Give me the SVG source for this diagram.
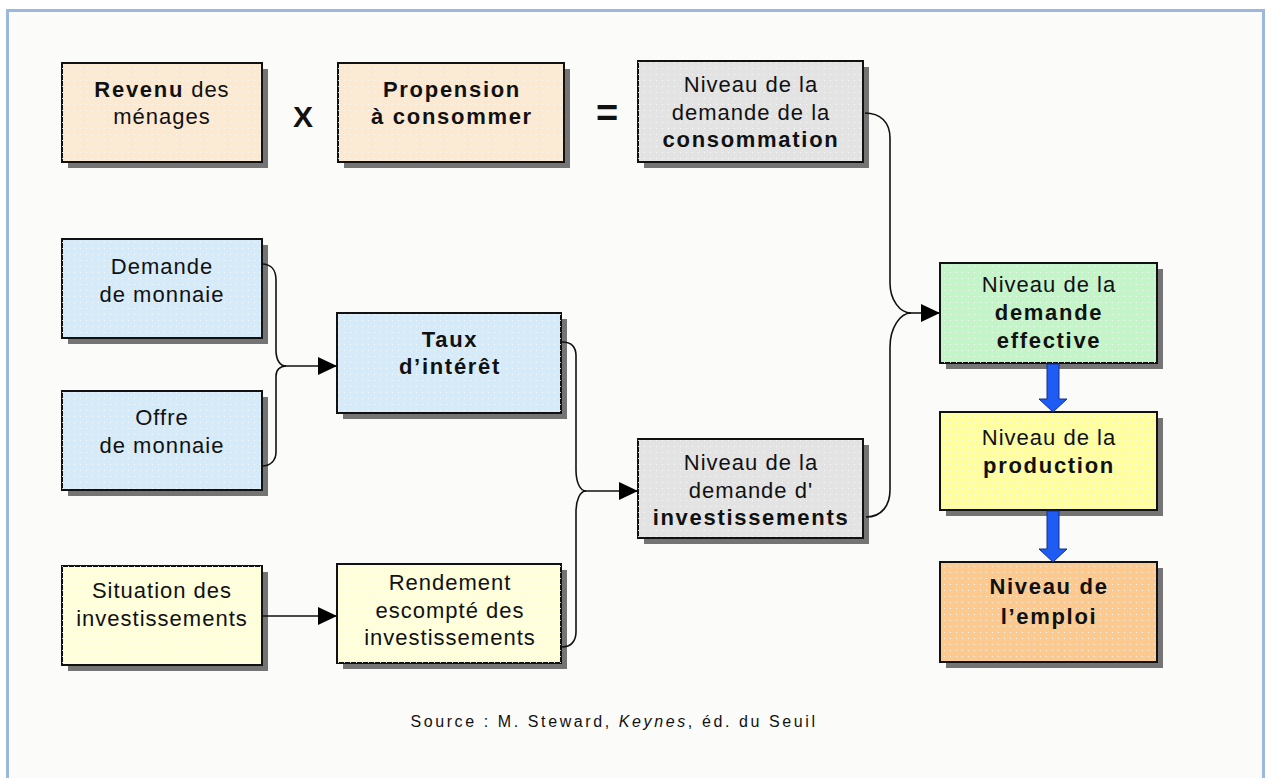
<svg xmlns="http://www.w3.org/2000/svg" width="1266" height="778" viewBox="0 0 1266 778">
<defs>
<pattern id="dots" width="6" height="6" patternUnits="userSpaceOnUse">
<rect x="2" y="2" width="1" height="1" fill="#ffffff" opacity="0.8"/>
</pattern>
<marker id="ah" markerUnits="userSpaceOnUse" markerWidth="20" markerHeight="18" refX="19" refY="9" orient="auto">
<path d="M0,0 L19,9 L0,18 Z" fill="#000"/>
</marker>
<style>
.sh{fill:#747474}
.bx{stroke:#111;stroke-width:2}
.dt{fill:url(#dots);stroke:none}
text{font-family:"Liberation Sans",Arial,sans-serif;font-size:22px;fill:#111;text-anchor:middle;letter-spacing:1px}
.b{font-weight:bold;letter-spacing:1.7px}
.peach{fill:#fce9d2}
.grey{fill:#e3e3e3}
.blue{fill:#d5ebf9}
.yel{fill:#fefed9}
.green{fill:#c3f5c9}
.prod{fill:#fefe9c}
.orng{fill:#fcca8f}
.cn{fill:none;stroke:#111;stroke-width:1.6}
.blu{fill:#1f5cf4;stroke:#15308a;stroke-width:1}
</style>
</defs>
<rect x="0" y="0" width="1266" height="778" fill="#ffffff"/>
<rect x="7.5" y="10.5" width="1256" height="780" fill="#fbfcfa" stroke="#9cb8de" stroke-width="3"/>

<g id="revenu">
<rect class="sh" x="68" y="69" width="200" height="99"/>
<rect class="bx peach" x="62" y="63" width="200" height="99"/>
<rect class="dt" x="62" y="63" width="200" height="99"/>
<text x="162" y="97"><tspan class="b">Revenu</tspan> des</text>
<text x="162" y="124">ménages</text>
</g>
<g id="op-x"><text x="303" y="127" style="font-weight:bold;font-size:30px;letter-spacing:0">X</text></g>
<g id="propension">
<rect class="sh" x="344" y="69" width="226" height="99"/>
<rect class="bx peach" x="338" y="63" width="226" height="99"/>
<rect class="dt" x="338" y="63" width="226" height="99"/>
<text class="b" x="452" y="97">Propension</text>
<text class="b" x="452" y="124">à consommer</text>
</g>
<g id="op-eq"><text x="607" y="126" style="font-weight:bold;font-size:38px;letter-spacing:0">=</text></g>
<g id="consommation">
<rect class="sh" x="644" y="67" width="225" height="101"/>
<rect class="bx grey" x="638" y="61" width="225" height="101"/>
<rect class="dt" x="638" y="61" width="225" height="101"/>
<text x="751" y="92">Niveau de la</text>
<text x="751" y="120">demande de la</text>
<text class="b" x="751" y="147">consommation</text>
</g>

<g id="demande-monnaie">
<rect class="sh" x="68" y="245" width="200" height="99"/>
<rect class="bx blue" x="62" y="239" width="200" height="99"/>
<rect class="dt" x="62" y="239" width="200" height="99"/>
<text x="162" y="274">Demande</text>
<text x="162" y="302">de monnaie</text>
</g>
<g id="offre-monnaie">
<rect class="sh" x="68" y="397" width="200" height="99"/>
<rect class="bx blue" x="62" y="391" width="200" height="99"/>
<rect class="dt" x="62" y="391" width="200" height="99"/>
<text x="162" y="425">Offre</text>
<text x="162" y="453">de monnaie</text>
</g>
<g id="taux">
<rect class="sh" x="343" y="319" width="224" height="100"/>
<rect class="bx blue" x="337" y="313" width="224" height="100"/>
<rect class="dt" x="337" y="313" width="224" height="100"/>
<text class="b" x="450" y="347">Taux</text>
<text class="b" x="450" y="374">d’intérêt</text>
</g>
<g id="investissements">
<rect class="sh" x="644" y="445" width="225" height="99"/>
<rect class="bx grey" x="638" y="439" width="225" height="99"/>
<rect class="dt" x="638" y="439" width="225" height="99"/>
<text x="751" y="470">Niveau de la</text>
<text x="751" y="498">demande d'</text>
<text class="b" x="751" y="525">investissements</text>
</g>
<g id="situation">
<rect class="sh" x="68" y="572" width="200" height="99"/>
<rect class="bx yel" x="62" y="566" width="200" height="99"/>
<rect class="dt" x="62" y="566" width="200" height="99"/>
<text x="162" y="598">Situation des</text>
<text x="162" y="626">investissements</text>
</g>
<g id="rendement">
<rect class="sh" x="343" y="570" width="224" height="99"/>
<rect class="bx yel" x="337" y="564" width="224" height="99"/>
<rect class="dt" x="337" y="564" width="224" height="99"/>
<text x="450" y="590">Rendement</text>
<text x="450" y="618">escompté des</text>
<text x="450" y="645">investissements</text>
</g>
<g id="effective">
<rect class="sh" x="946" y="269" width="217" height="100"/>
<rect class="bx green" x="940" y="263" width="217" height="100"/>
<rect class="dt" x="940" y="263" width="217" height="100"/>
<text x="1049" y="292">Niveau de la</text>
<text class="b" x="1049" y="320">demande</text>
<text class="b" x="1049" y="348">effective</text>
</g>
<g id="production">
<rect class="sh" x="946" y="418" width="217" height="98"/>
<rect class="bx prod" x="940" y="412" width="217" height="98"/>
<rect class="dt" x="940" y="412" width="217" height="98"/>
<text x="1049" y="445">Niveau de la</text>
<text class="b" x="1049" y="473">production</text>
</g>
<g id="emploi">
<rect class="sh" x="946" y="568" width="217" height="100"/>
<rect class="bx orng" x="940" y="562" width="217" height="100"/>
<rect class="dt" x="940" y="562" width="217" height="100"/>
<text class="b" x="1049" y="594">Niveau de</text>
<text class="b" x="1049" y="624">l’emploi</text>
</g>

<g id="connectors">
<path class="cn" d="M262,264 C271,264 276,270 276,280 L276,350 C276,360 280,366 286,366"/>
<path class="cn" d="M262,466 C271,466 276,460 276,452 L276,376 C276,370 280,366 286,366"/>
<path class="cn" d="M285,366 L337,366" marker-end="url(#ah)"/>
<path class="cn" d="M562,342 C571,342 576,347 576,356 L576,470 C576,482 580,491 586,491"/>
<path class="cn" d="M562,647 C571,647 576,641 576,632 L576,512 C576,500 580,491 586,491"/>
<path class="cn" d="M585,491 L638,491" marker-end="url(#ah)"/>
<path class="cn" d="M865,113 C880,113 890,122 890,138 L890,283 C890,300 900,313 911,313"/>
<path class="cn" d="M866,517 C882,517 890,505 890,490 L890,347 C890,328 900,313 911,313"/>
<path class="cn" d="M910,313 L940,313" marker-end="url(#ah)"/>
<path class="cn" d="M262,616 L337,616" marker-end="url(#ah)"/>
<path class="blu" d="M1047,364 L1059,364 L1059,399 L1067,399 L1053,412 L1039,399 L1047,399 Z"/>
<path class="blu" d="M1047,511 L1059,511 L1059,549 L1067,549 L1053,562 L1039,549 L1047,549 Z"/>
</g>

<g id="source">
<text x="614" y="727" style="font-size:16px;letter-spacing:2.6px">Source : M. Steward, <tspan font-style="italic">Keynes</tspan>, éd. du Seuil</text>
</g>
</svg>
